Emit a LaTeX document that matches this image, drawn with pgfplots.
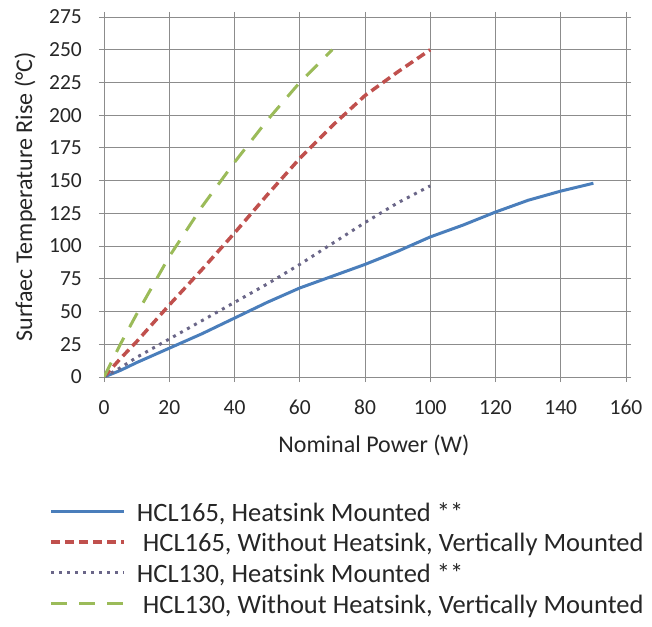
\documentclass[border=0pt]{standalone}
\usepackage{fontspec}
\setmainfont{Carlito}
\usepackage{pgfplots}
\pgfplotsset{compat=1.18}
\definecolor{cblue}{HTML}{4A7EBB}
\definecolor{cred}{HTML}{C0504D}
\definecolor{cdot}{HTML}{6A6688}
\definecolor{cgreen}{HTML}{9BBB59}
\definecolor{gridgray}{HTML}{8C8C8C}
\definecolor{txt}{HTML}{262626}
\begin{document}
\begin{tikzpicture}
\path[use as bounding box] (0pt,0pt) rectangle (652pt,626pt);
\begin{axis}[
  at={(104pt,249pt)}, anchor=south west,
  width=522pt, height=360pt, scale only axis,
  xmin=0, xmax=160, ymin=0, ymax=275,
  xtick={0,20,...,160}, ytick={0,25,...,275},
  grid=major,
  major grid style={draw=gridgray, line width=0.9pt},
  axis line style={draw=gridgray, line width=0.9pt},
  tick style={draw=gridgray, line width=0.9pt},
  tick align=outside, major tick length=5pt,
  /pgf/number format/assume math mode=true,
  ticklabel style={font=\fontsize{21.5}{25}\selectfont, text=txt},
  yticklabel style={anchor=east, inner sep=0pt, xshift=-17pt},
  xticklabel style={anchor=north, inner sep=0pt, yshift=-18pt},
  xlabel={Nominal Power (W)},
  ylabel={Surfaec Temperature Rise (°C)},
  x label style={at={(axis description cs:0.517,-0.189)}, anchor=center, font=\fontsize{24}{28}\selectfont, text=txt},
  y label style={at={(axis description cs:-0.151,0.5)}, anchor=center, rotate=0, font=\fontsize{24}{28}\selectfont, text=txt},
  legend style={at={(axis description cs:-0.105,-0.347)}, anchor=north west, draw=none, fill=none, inner sep=0pt,
    font=\fontsize{26.5}{30}\selectfont, text=txt, row sep=0pt, column sep=11pt,
    nodes={inner sep=0pt, text height=19pt, text depth=11.7pt}},
  legend cell align=left,
  legend image code/.code={\draw[#1] (0pt,6pt) -- (73pt,6pt);},
]
\addplot[cblue, line width=3pt] coordinates {
(0,0) (5,5) (10,11) (20,22) (30,33) (40,45) (50,57) (60,68) (70,77) (80,86) (90,96) (100,107) (110,116) (120,126) (130,135) (140,142) (150,148)};
\addlegendentry{HCL165, Heatsink Mounted **}
\addplot[cred, line width=3.5pt, dash pattern=on 9pt off 5pt] coordinates {
(0,0) (5,14) (10,27) (20,55) (30,82) (40,110) (50,139) (60,167) (70,192) (80,215) (90,233) (100,250)};
\addlegendentry{\hspace{6pt}HCL165, Without Heatsink, Vertically Mounted}
\addplot[cdot, line width=3pt, dash pattern=on 3pt off 5pt] coordinates {
(0,0) (5,7) (10,15) (20,29) (30,43) (40,57) (50,71) (60,86) (70,102) (80,118) (90,133) (100,146)};
\addlegendentry{HCL130, Heatsink Mounted **}
\addplot[cgreen, line width=3pt, dash pattern=on 16pt off 12pt] coordinates {
(0,0) (5,25) (10,48) (15,70) (20,92) (30,130) (40,164) (50,196) (60,225) (70,250)};
\addlegendentry{\hspace{6pt}HCL130, Without Heatsink, Vertically Mounted}
\end{axis}
\end{tikzpicture}
\end{document}
